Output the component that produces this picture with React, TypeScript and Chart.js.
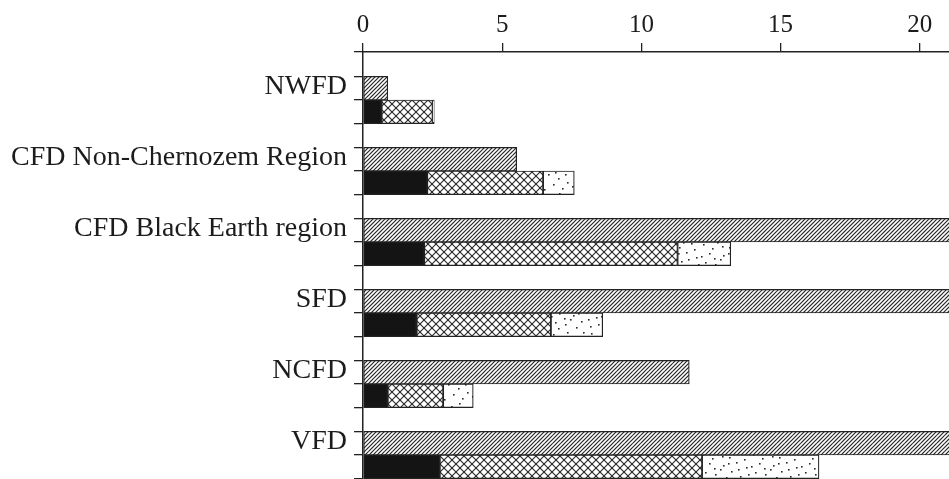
import React, { useEffect, useRef } from "react";
import { Chart, registerables } from "chart.js";

Chart.register(...registerables);

// ---- data ----
const categories = [
  "NWFD",
  "CFD Non-Chernozem Region",
  "CFD Black Earth region",
  "SFD",
  "NCFD",
  "VFD",
];
const hatchedValues = [0.89, 5.52, 24, 24, 11.72, 24];
const blackValues = [0.67, 2.31, 2.2, 1.93, 0.89, 2.76];
const crossValues = [1.83, 4.16, 9.1, 4.82, 1.99, 9.42];
const dottedValues = [0.06, 1.12, 1.91, 1.86, 1.08, 4.2];
const xTickValues = [0, 5, 10, 15, 20];

// ---- patterns ----
function makeHatch(): CanvasPattern | string {
  const s = 8;
  const c = document.createElement("canvas");
  c.width = s;
  c.height = s;
  const g = c.getContext("2d");
  if (!g) return "#888";
  g.fillStyle = "#fff";
  g.fillRect(0, 0, s, s);
  g.strokeStyle = "#262626";
  g.lineWidth = 1.2;
  for (let k = -1; k <= 5; k++) {
    const cc = k * 4;
    g.beginPath();
    g.moveTo(-2, cc + 2);
    g.lineTo(s + 2, cc - s - 2);
    g.stroke();
  }
  return g.createPattern(c, "repeat") || "#888";
}

function makeCross(): CanvasPattern | string {
  const s = 8;
  const c = document.createElement("canvas");
  c.width = s;
  c.height = s;
  const g = c.getContext("2d");
  if (!g) return "#aaa";
  g.fillStyle = "#fff";
  g.fillRect(0, 0, s, s);
  g.strokeStyle = "#262626";
  g.lineWidth = 1.1;
  for (let k = -1; k <= 3; k++) {
    const cc = k * s;
    g.beginPath();
    g.moveTo(-2, cc + 2);
    g.lineTo(s + 2, cc - s - 2);
    g.stroke();
    g.beginPath();
    g.moveTo(-2, -cc - 2);
    g.lineTo(s + 2, -cc + s + 2);
    g.stroke();
  }
  return g.createPattern(c, "repeat") || "#aaa";
}

const dotSpots: Array<[number, number]> = [
  [3, 4], [17, 2], [29, 7], [41, 3], [9, 13], [23, 15], [36, 12], [46, 17],
  [5, 22], [15, 24], [31, 21], [40, 26], [12, 8], [26, 27], [44, 9], [20, 19],
  [33, 2], [1, 16], [48, 24], [22, 6], [38, 19], [8, 28], [28, 13], [14, 18],
];
function makeDots(): CanvasPattern | string {
  const w = 50;
  const h = 30;
  const c = document.createElement("canvas");
  c.width = w;
  c.height = h;
  const g = c.getContext("2d");
  if (!g) return "#fff";
  g.fillStyle = "#fff";
  g.fillRect(0, 0, w, h);
  g.fillStyle = "#2a2a2a";
  for (const [x, y] of dotSpots) g.fillRect(x, y, 1.6, 1.6);
  return g.createPattern(c, "repeat") || "#fff";
}

const FONT = '"Liberation Serif", "Times New Roman", serif';
const INK = "#1c1c1c";
const BAR_EDGE = 0.331; // category units from centre to outer bar edge
const LABEL_OFFSET = -0.195; // label sits on the upper (hatched) bar

export default function App() {
  const ref = useRef<HTMLCanvasElement | null>(null);

  useEffect(() => {
    if (!ref.current) return;
    const hatch = makeHatch();
    const cross = makeCross();
    const dots = makeDots();
    const toPts = (arr: number[]) => arr.map((v, i) => ({ x: v, y: i }));
    const common = {
      barThickness: 23.6,
      borderColor: "#222",
      borderWidth: 1.2,
      borderSkipped: false as const,
    };

    const chart = new Chart(ref.current, {
      type: "bar",
      data: {
        datasets: [
          { ...common, label: "hatched", data: toPts(hatchedValues), stack: "a", backgroundColor: hatch as any },
          { ...common, label: "black", data: toPts(blackValues), stack: "b", backgroundColor: "#141414" },
          { ...common, label: "cross", data: toPts(crossValues), stack: "b", backgroundColor: cross as any },
          { ...common, label: "dotted", data: toPts(dottedValues), stack: "b", backgroundColor: dots as any },
        ] as any,
      },
      options: {
        animation: false,
        responsive: false,
        maintainAspectRatio: false,
        indexAxis: "y",
        layout: { padding: 0 },
        plugins: { legend: { display: false }, tooltip: { enabled: false } },
        scales: {
          x: {
            type: "linear",
            position: "top",
            min: 0,
            max: 21.05,
            stacked: true,
            offset: false,
            afterBuildTicks: (s: any) => {
              s.ticks = xTickValues.map((v) => ({ value: v }));
            },
            afterFit: (s: any) => {
              s.height = 52;
              s.paddingLeft = 0;
              s.paddingRight = 0;
            },
            grid: {
              offset: false,
              drawOnChartArea: false,
              drawTicks: true,
              tickLength: 9,
              color: "#222",
              lineWidth: 1.3,
            },
            border: { display: true, color: "#222", width: 1.5 },
            ticks: {
              font: { family: FONT, size: 25 },
              color: INK,
              padding: 3,
              maxRotation: 0,
              autoSkip: false,
            },
          },
          y: {
            type: "linear",
            reverse: true,
            offset: false,
            min: -0.676,
            max: 5.338,
            afterBuildTicks: (s: any) => {
              const t: any[] = [{ value: -0.676, name: "" }];
              categories.forEach((name, i) => {
                t.push({ value: i - BAR_EDGE });
                t.push({ value: i + LABEL_OFFSET, name });
                t.push({ value: i });
                t.push({ value: i + BAR_EDGE });
              });
              s.ticks = t;
            },
            afterFit: (s: any) => {
              s.width = 363;
              s.paddingTop = 0;
              s.paddingBottom = 0;
            },
            grid: {
              offset: false,
              drawOnChartArea: false,
              drawTicks: true,
              tickLength: 9,
              lineWidth: 1.3,
              color: "#222",
              tickColor: (ctx: any) =>
                ctx.tick && ctx.tick.name ? "rgba(0,0,0,0)" : "#222",
            },
            border: { display: true, color: "#222", width: 1.5 },
            ticks: {
              autoSkip: false,
              padding: 7,
              font: { family: FONT, size: 28 },
              color: INK,
              callback: function (_v: any, index: number, ticks: any[]) {
                const t = ticks[index];
                return t && t.name ? t.name : "";
              },
            },
          },
        },
      } as any,
    });
    return () => chart.destroy();
  }, []);

  return (
    <div
      style={{
        position: "fixed",
        left: 0,
        top: 0,
        width: 949,
        height: 479,
        background: "#fff",
        overflow: "hidden",
      }}
    >
      <canvas ref={ref} width={949} height={479} style={{ display: "block" }} />
    </div>
  );
}
